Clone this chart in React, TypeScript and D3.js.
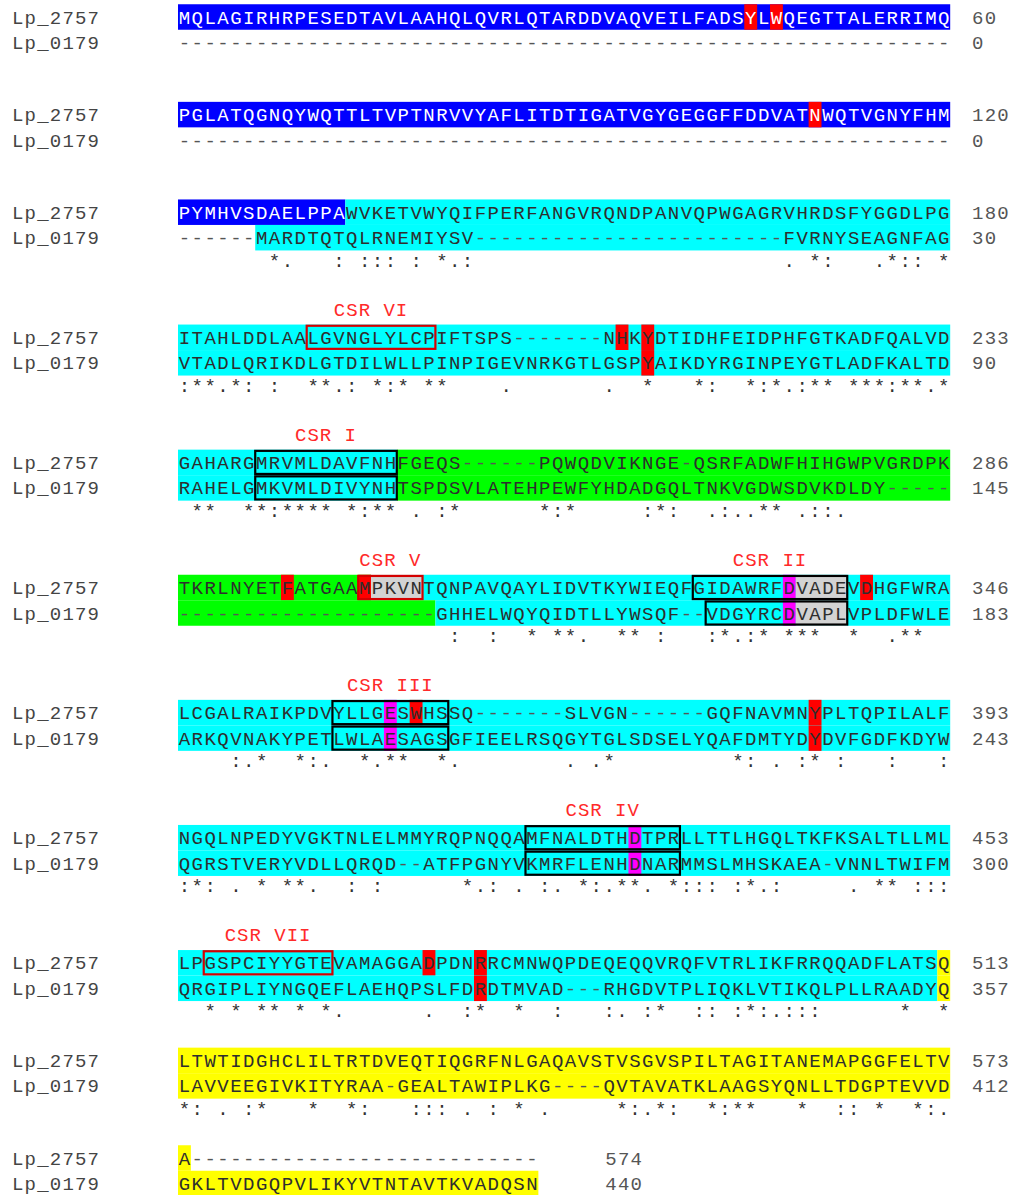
import React from "react";
import * as d3 from "d3";

const names = ["Lp_2757", "Lp_0179"];

const seq2757 = [
  "MQLAGIRHRPESEDTAVLAAHQLQVRLQTARDDVAQVEILFADSYLWQEGTTALERRIMQ",
  "PGLATQGNQYWQTTLTVPTNRVVYAFLITDTIGATVGYGEGGFFDDVATNWQTVGNYFHM",
  "PYMHVSDAELPPAWVKETVWYQIFPERFANGVRQNDPANVQPWGAGRVHRDSFYGGDLPG",
  "ITAHLDDLAALGVNGLYLCPIFTSPS-------NHKYDTIDHFEIDPHFGTKADFQALVD",
  "GAHARGMRVMLDAVFNHFGEQS------PQWQDVIKNGE-QSRFADWFHIHGWPVGRDPK",
  "TKRLNYETFATGAAMPKVNTQNPAVQAYLIDVTKYWIEQFGIDAWRFDVADEVDHGFWRA",
  "LCGALRAIKPDVYLLGESWHSSQ-------SLVGN------GQFNAVMNYPLTQPILALF",
  "NGQLNPEDYVGKTNLELMMYRQPNQQAMFNALDTHDTPRLLTTLHGQLTKFKSALTLLML",
  "LPGSPCIYYGTEVAMAGGADPDNRRCMNWQPDEQEQQVRQFVTRLIKFRRQQADFLATSQ",
  "LTWTIDGHCLILTRTDVEQTIQGRFNLGAQAVSTVSGVSPILTAGITANEMAPGGFELTV",
  "A" + "----------" + "----------" + "-------",
];

const seq0179 = [
  "----------" + "----------" + "----------" + "----------" + "----------" + "----------",
  "----------" + "----------" + "----------" + "----------" + "----------" + "----------",
  "------MARDTQTQLRNEMIYSV" + "------------------------" + "FVRNYSEAGNFAG",
  "VTADLQRIKDLGTDILWLLPINPIGEVNRKGTLGSPYAIKDYRGINPEYGTLADFKALTD",
  "RAHELGMKVMLDIVYNHTSPDSVLATEHPEWFYHDADGQLTNKVGDWSDVKDLDY-----",
  "--------------------GHHELWQYQIDTLLYWSQF--VDGYRCDVAPLVPLDFWLE",
  "ARKQVNAKYPETLWLAESAGSGFIEELRSQGYTGLSDSELYQAFDMTYDYDVFGDFKDYW",
  "QGRSTVERYVDLLQRQD--ATFPGNYVKMRFLENHDNARMMSLMHSKAEA-VNNLTWIFM",
  "QRGIPLIYNGQEFLAEHQPSLFDRDTMVAD---RHGDVTPLIQKLVTIKQLPLLRAADYQ",
  "LAVVEEGIVKITYRAA-GEALTAWIPLKG----QVTAVATKLAAGSYQNLLTDGPTEVVD",
  "GKLTVDGQPVLIKYVTNTAVTKVADQSN",
];

const end2757 = [60, 120, 180, 233, 286, 346, 393, 453, 513, 573, 574];
const end0179 = [0, 0, 30, 90, 145, 183, 243, 300, 357, 412, 440];

// conservation line: [start column, symbols]
const conservation: [number, string][][] = [
  [],
  [],
  [[7, "*."], [12, ": ::: : *.:"], [47, ". *:"], [54, ".*:: *"]],
  [[0, ":**.*: :"], [10, "**.: *:* **"], [25, "."], [33, "."], [36, "*"], [40, "*:"], [44, "*:*.:** ***:**.*"]],
  [[1, "**"], [5, "**:**** *:**"], [18, ". :*"], [28, "*:*"], [36, ":*:"], [41, ".:..** .::."]],
  [[21, ":  :  * **.  ** :"], [41, ":*.:* ***  *  .**"]],
  [[4, ":.*  *:.  *.**  *."], [30, ". .*"], [43, "*: . :* :"], [55, ":"], [59, ":"]],
  [[0, ":*: . * **.  : :"], [22, "*.: . :. *:.**. *::: :*.:"], [52, ". ** :::"]],
  [[2, "* * ** * *."], [19, ".  :*  *  :"], [33, ":. :*"], [40, ":: :*:.:::"], [56, "*  *"]],
  [[0, "*: . :*   *  *:   ::: . : * ."], [34, "*:.*:  *:**   *  :: *  *:."]],
  [],
];

// shading runs: [colour key, first column, last column]; later runs lie on top
const shade2757: [string, number, number][][] = [
  [["B", 0, 59], ["R", 44, 44], ["R", 46, 46]],
  [["B", 0, 59], ["R", 49, 49]],
  [["B", 0, 12], ["C", 13, 59]],
  [["C", 0, 59], ["R", 34, 34], ["R", 36, 36]],
  [["C", 0, 16], ["G", 17, 59]],
  [["G", 0, 14], ["C", 19, 59], ["R", 8, 8], ["R", 14, 14], ["S", 15, 18], ["M", 47, 47], ["S", 48, 51], ["R", 53, 53]],
  [["C", 0, 59], ["M", 16, 16], ["R", 18, 18], ["R", 49, 49]],
  [["C", 0, 59], ["M", 35, 35]],
  [["C", 0, 58], ["Y", 59, 59], ["R", 19, 19], ["R", 23, 23]],
  [["Y", 0, 59]],
  [["Y", 0, 0]],
];

const shade0179: [string, number, number][][] = [
  [],
  [],
  [["C", 6, 59]],
  [["C", 0, 59], ["R", 36, 36]],
  [["C", 0, 16], ["G", 17, 59]],
  [["G", 0, 19], ["C", 20, 59], ["M", 47, 47], ["S", 48, 51]],
  [["C", 0, 59], ["M", 16, 16], ["R", 49, 49]],
  [["C", 0, 59], ["M", 35, 35]],
  [["C", 0, 58], ["Y", 59, 59], ["R", 23, 23]],
  [["Y", 0, 59]],
  [["Y", 0, 27]],
];

// conserved sequence regions: block, row (0 = Lp_2757, 1 = Lp_0179), columns, outline
const boxes = [
  { block: 3, row: 0, from: 10, to: 19, kind: "red" },
  { block: 4, row: 0, from: 6, to: 16, kind: "black" },
  { block: 4, row: 1, from: 6, to: 16, kind: "black" },
  { block: 5, row: 0, from: 14, to: 18, kind: "red" },
  { block: 5, row: 0, from: 40, to: 51, kind: "black" },
  { block: 5, row: 1, from: 41, to: 51, kind: "black" },
  { block: 6, row: 0, from: 12, to: 20, kind: "black" },
  { block: 6, row: 1, from: 12, to: 20, kind: "black" },
  { block: 7, row: 0, from: 27, to: 38, kind: "black" },
  { block: 7, row: 1, from: 27, to: 38, kind: "black" },
  { block: 8, row: 0, from: 2, to: 11, kind: "red" },
];

const csrLabels = [
  { block: 3, text: "CSR VI", from: 10, to: 19 },
  { block: 4, text: "CSR I", from: 6, to: 16 },
  { block: 5, text: "CSR V", from: 14, to: 18 },
  { block: 5, text: "CSR II", from: 40, to: 51 },
  { block: 6, text: "CSR III", from: 12, to: 20 },
  { block: 7, text: "CSR IV", from: 27, to: 38 },
  { block: 8, text: "CSR VII", from: 2, to: 11 },
];

const palette: Record<string, string> = {
  B: "#0000ff",
  C: "#00ffff",
  G: "#00ff00",
  Y: "#ffff00",
  R: "#ff0000",
  M: "#ff00ff",
  S: "#d3d3d3",
};

const FONT = "'Liberation Mono', 'DejaVu Sans Mono', monospace";

const App = () => {
  const width = 1011;
  const height = 1195;
  const x = d3.scaleLinear().domain([0, 60]).range([178, 950.2]);
  const cw = x(1) - x(0);
  const rowGap = 25.5;
  const bandH = 25.5;

  const blockY: number[] = [];
  let y = 17;
  seq2757.forEach((_, b) => {
    const labelled = csrLabels.some((l) => l.block === b);
    if (b > 0) y += 97.6 + (labelled ? 27.5 : 0);
    blockY.push(y);
  });

  const numberX = (len: number) => (len === 60 ? x(61.7) : x(len + 5.2));

  const renderRow = (seq: string, runs: [string, number, number][], cy: number, name: string, end: number, key: string) => {
    const onBlue = (i: number) => runs.some(([k, a, z]) => k === "B" && i >= a && i <= z);
    return (
      <g key={key}>
        {runs.map(([k, a, z], j) => (
          <rect key={j} x={x(a)} y={cy - bandH / 2} width={x(z + 1) - x(a)} height={bandH} fill={palette[k]} />
        ))}
        <text x={12} y={cy + 6.5} fontFamily={FONT} fontSize={19} letterSpacing={1.2} fill="#444">
          {name}
        </text>
        {seq.split("").map((c, i) => (
          <text
            key={i}
            x={x(i + 0.5)}
            y={cy + 6.5}
            textAnchor="middle"
            fontFamily={FONT}
            fontSize={19}
            fill={onBlue(i) ? "#ffffff" : c === "-" ? "#555" : "#2e2e2e"}
          >
            {c}
          </text>
        ))}
        <text x={numberX(seq.length)} y={cy + 6.5} fontFamily={FONT} fontSize={19} letterSpacing={1.2} fill="#555">
          {end}
        </text>
      </g>
    );
  };

  return (
    <svg width={width} height={height} style={{ position: "absolute", left: 0, top: 0, background: "#fff" }}>
      {seq2757.map((s, b) => {
        const yA = blockY[b];
        const yB = yA + rowGap;
        const yC = yA + 48;
        return (
          <g key={b}>
            {renderRow(s, shade2757[b], yA, names[0], end2757[b], "a")}
            {renderRow(seq0179[b], shade0179[b], yB, names[1], end0179[b], "b")}
            {boxes
              .filter((bx) => bx.block === b)
              .map((bx, j) => {
                const cy = bx.row === 0 ? yA : yB;
                return (
                  <rect
                    key={"box" + j}
                    x={x(bx.from)}
                    y={cy - bandH / 2 + 1.2}
                    width={x(bx.to + 1) - x(bx.from)}
                    height={bandH - 2.4}
                    fill="none"
                    stroke={bx.kind === "red" ? "#d40000" : "#000"}
                    strokeWidth={2.2}
                  />
                );
              })}
            {csrLabels
              .filter((l) => l.block === b)
              .map((l, j) => (
                <text
                  key={"lab" + j}
                  x={(x(l.from) + x(l.to + 1)) / 2}
                  y={yA - 28 + 6.5}
                  textAnchor="middle"
                  fontFamily={FONT}
                  fontSize={19}
                  letterSpacing={1}
                  fill="#ff2a2a"
                >
                  {l.text}
                </text>
              ))}
            {conservation[b].map(([start, sym], j) =>
              sym.split("").map((c, i) =>
                c === " " ? null : (
                  <text
                    key={"c" + j + "_" + i}
                    x={x(start + i + 0.5)}
                    y={yC + 6.5}
                    textAnchor="middle"
                    fontFamily={FONT}
                    fontSize={19}
                    fill="#333"
                  >
                    {c}
                  </text>
                )
              )
            )}
          </g>
        );
      })}
    </svg>
  );
};

export default App;
